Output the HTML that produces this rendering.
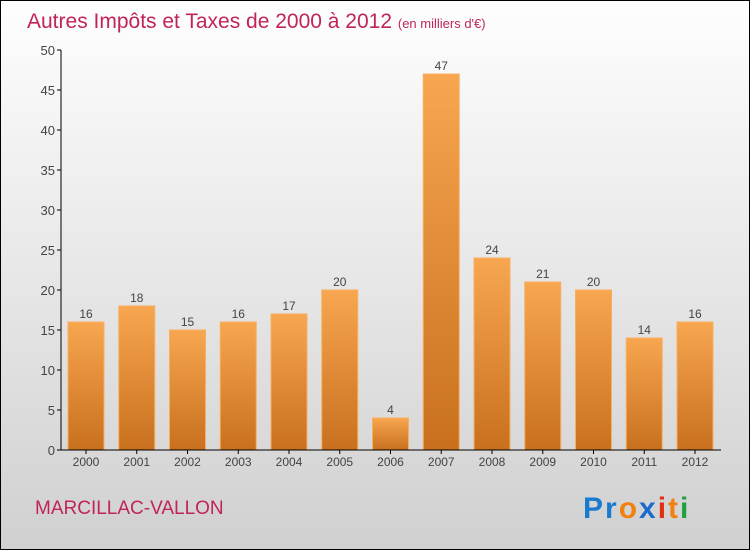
<!DOCTYPE html>
<html><head><meta charset="utf-8"><style>
body{margin:0;width:750px;height:550px;overflow:hidden}
svg{display:block;font-family:"Liberation Sans",sans-serif}
</style></head><body>
<svg width="750" height="550">
<defs>
<linearGradient id="bg" x1="0" y1="0" x2="0" y2="1"><stop offset="0" stop-color="#fefefe"/><stop offset="1" stop-color="#d0d0d0"/></linearGradient>
<linearGradient id="bar" x1="0" y1="0" x2="0" y2="1"><stop offset="0" stop-color="#f8a650"/><stop offset="1" stop-color="#c8701e"/></linearGradient>
</defs>
<rect x="0.5" y="0.5" width="749" height="549" fill="url(#bg)" stroke="#000"/>
<text x="27" y="28" font-size="21" fill="#c0245a">Autres Impôts et Taxes de 2000 à 2012 <tspan font-size="13">(en milliers d'€)</tspan></text>
<g id="plot"></g>
<text x="35" y="514" font-size="19" fill="#c0245a">MARCILLAC-VALLON</text>
<text x="583" y="518" font-size="30" font-weight="bold" letter-spacing="2"><tspan fill="#1a7ad0">Pr</tspan><tspan fill="#f08010">o</tspan><tspan fill="#1a6ad0">x</tspan><tspan fill="#e03010">i</tspan><tspan fill="#f08010">t</tspan><tspan fill="#20a040">i</tspan></text>
</svg>
<script>
const years=["2000","2001","2002","2003","2004","2005","2006","2007","2008","2009","2010","2011","2012"];
const values=[16,18,15,16,17,20,4,47,24,21,20,14,16];
const yTicks=[0,5,10,15,20,25,30,35,40,45,50];
const ns="http://www.w3.org/2000/svg";
const g=document.getElementById('plot');
const y=v=>450-v*8, x=i=>86+i*50.75;
function el(t,a,txt){const e=document.createElementNS(ns,t);for(const k in a)e.setAttribute(k,a[k]);if(txt!=null)e.textContent=txt;g.appendChild(e);return e;}
yTicks.forEach(t=>{
 const l=el('line',{x1:57,x2:61,y1:y(t),y2:y(t),stroke:'#000'});
 
 
 const s=el('text',{x:55,y:y(t)+5,'font-size':13,fill:'#444','text-anchor':'end'},t);
 
 
});
values.forEach((v,i)=>{
 const r=el('rect',{x:x(i)-18,y:y(v),width:36,height:v*8,fill:'url(#bar)',stroke:'#f8b060','stroke-width':1});
 
 
 const s=el('text',{x:x(i),y:y(v)-4,'font-size':12,fill:'#444','text-anchor':'middle'},v);
 
 
 const k=el('line',{x1:x(i),x2:x(i),y1:450,y2:454,stroke:'#000'});
 
 
 const xl=el('text',{x:x(i),y:466,'font-size':12,fill:'#444','text-anchor':'middle'},years[i]);
 
 
});
const ya=el('line',{x1:61,x2:61,y1:50,y2:450,stroke:'#000'});


const xa=el('line',{x1:61,x2:721,y1:450,y2:450,stroke:'#000'});


</script>
</body></html>
